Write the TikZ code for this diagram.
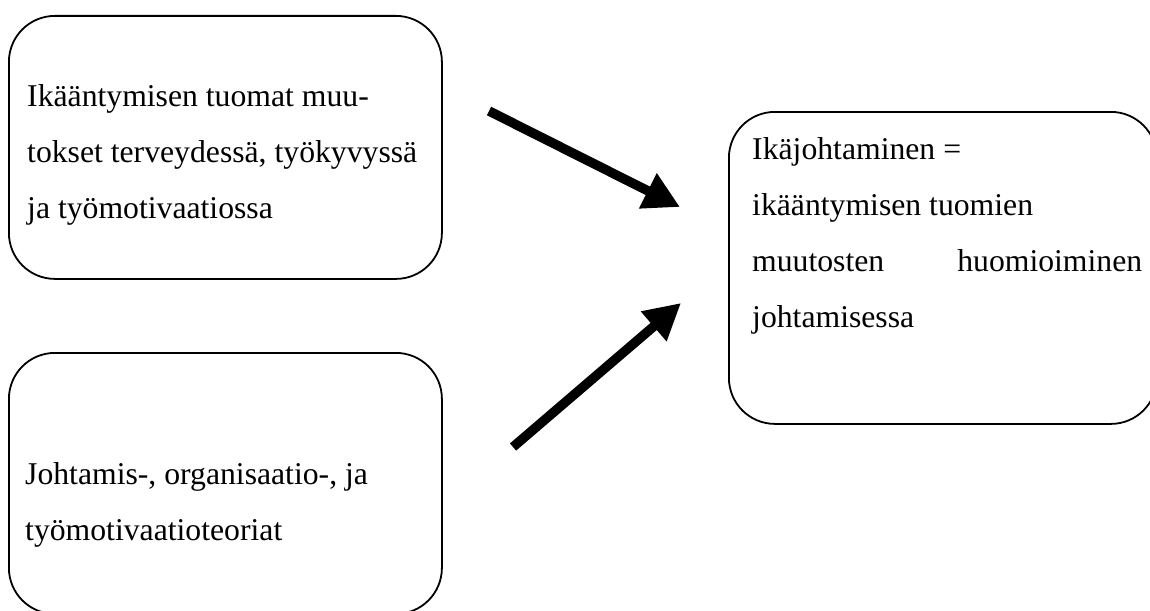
\documentclass[tikz,border=0pt]{standalone}
\usepackage{fontspec}
\setmainfont{Liberation Serif}
\usetikzlibrary{arrows.meta}
\begin{document}
\begin{tikzpicture}[x=1pt,y=-1pt,
  box/.style={draw=black, line width=1.8pt, rounded corners=46pt, inner sep=0pt, anchor=north west},
  txt/.style={anchor=base west, inner sep=0pt, font=\fontsize{31.7}{55}\selectfont},
  bigarrow/.style={line width=9.5pt, -{Triangle[length=36pt,width=37pt]}}]
\useasboundingbox (0,0) rectangle (1150,610);
% boxes
\node[box, minimum width=433pt, minimum height=263pt] (b1) at (8,15) {};
\node[box, minimum width=433pt, minimum height=261pt] (b2) at (8,352) {};
\node[box, minimum width=428pt, minimum height=312pt] (b3) at (728,111) {};
% texts box 1
\node[txt] (t1a) at (27,106) {Ikääntymisen tuomat muu-};
\node[txt] (t1b) at (27,162) {tokset terveydessä, työkyvyssä};
\node[txt] (t1c) at (27,218) {ja työmotivaatiossa};
% texts box 2
\node[txt] (t2a) at (25,484) {Johtamis-, organisaatio-, ja};
\node[txt] (t2b) at (25,540) {työmotivaatioteoriat};
% texts box 3
\node[txt] (t3a) at (752,159) {Ikäjohtaminen =};
\node[txt] (t3b) at (752,215) {ikääntymisen tuomien};
\node[txt] (t3c) at (752,271) {\hbox to 390pt{muutosten\hfill huomioiminen}};
\node[txt] (t3d) at (752,327) {johtamisessa};
% arrows
\coordinate (a1s) at (489,111);
\coordinate (a1e) at (680,207);
\coordinate (a2s) at (513,447);
\coordinate (a2e) at (681,303);
\draw[bigarrow] (a1s) -- (a1e);
\draw[bigarrow] (a2s) -- (a2e);
\end{tikzpicture}
\end{document}
